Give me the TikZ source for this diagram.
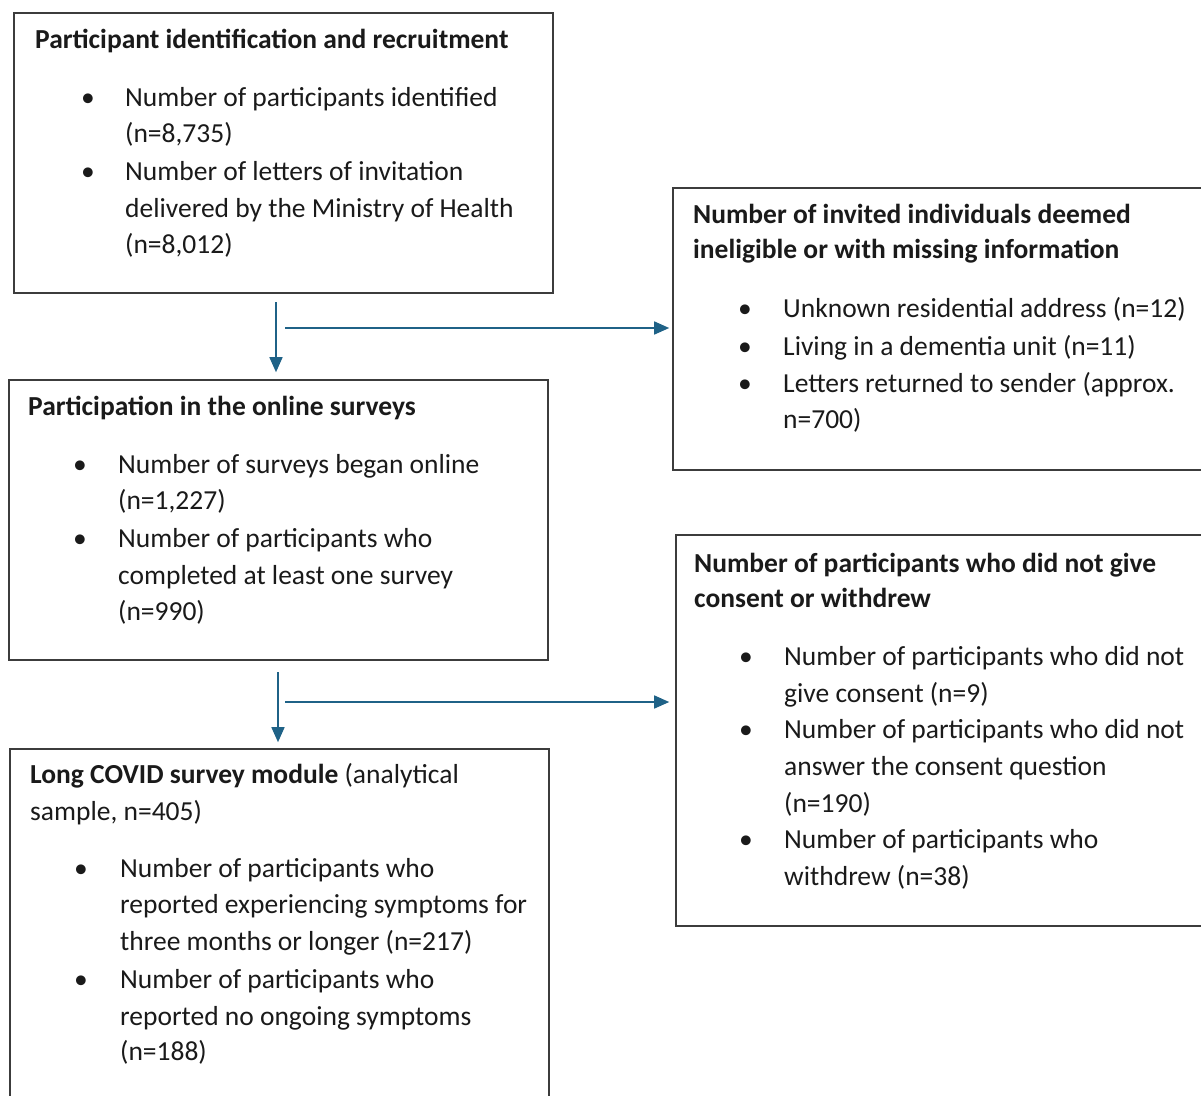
\documentclass[tikz,border=0pt]{standalone}
\usepackage{fontspec}
\setmainfont{Carlito}
\usetikzlibrary{arrows.meta}
\definecolor{ink}{RGB}{26,26,26}
\definecolor{frame}{RGB}{60,60,60}
\definecolor{arrowblue}{RGB}{31,98,135}
\begin{document}
\begin{tikzpicture}[x=1pt,y=-1pt,
  box/.style={draw=frame, line width=1.6pt, rectangle, inner sep=0pt},
  txt/.style={anchor=base west, inner sep=0pt, text=ink, font=\fontsize{27.5}{36}\selectfont},
  ttl/.style={txt, font=\fontsize{27.5}{36}\selectfont\bfseries},
  bul/.style={anchor=base, inner sep=0pt, text=ink, font=\fontsize{27.5}{36}\selectfont},
  arr/.style={draw=arrowblue, line width=1.5pt, -{Triangle[length=15pt,width=13pt]}, arrowblue}]
\useasboundingbox[fill=white] (0,0) rectangle (1201,1095);
% boxes
\node[box, minimum width=539pt, minimum height=280pt] (box1) at (283.5,153) {};
\node[box, minimum width=532pt, minimum height=282pt] (box2) at (939,329) {};
\node[box, minimum width=539pt, minimum height=280pt] (box3) at (278.5,520) {};
\node[box, minimum width=529pt, minimum height=391pt] (box4) at (940.5,730.5) {};
\node[box, minimum width=539pt, minimum height=360pt] (box5) at (279.5,929) {};
% box 1
\node[ttl] (t1) at (35,48) {Participant identification and recruitment};
\node[bul] (b1a) at (88,106) {•};
\node[txt] (l1a) at (125,106) {Number of participants identified};
\node[txt] (l1b) at (125,142) {(n=8,735)};
\node[bul] (b1b) at (88,180) {•};
\node[txt] (l1c) at (125,180) {Number of letters of invitation};
\node[txt] (l1d) at (125,217) {delivered by the Ministry of Health};
\node[txt] (l1e) at (125,253) {(n=8,012)};
% box 2
\node[ttl] (t2a) at (693,223) {Number of invited individuals deemed};
\node[ttl] (t2b) at (693,258) {ineligible or with missing information};
\node[bul] (b2a) at (745,317) {•};
\node[txt] (l2a) at (783,317) {Unknown residential address (n=12)};
\node[bul] (b2b) at (745,355) {•};
\node[txt] (l2b) at (783,355) {Living in a dementia unit (n=11)};
\node[bul] (b2c) at (745,392) {•};
\node[txt] (l2c) at (783,392) {Letters returned to sender (approx.};
\node[txt] (l2d) at (783,428) {n=700)};
% box 3
\node[ttl] (t3) at (28,415) {Participation in the online surveys};
\node[bul] (b3a) at (80,473) {•};
\node[txt] (l3a) at (118,473) {Number of surveys began online};
\node[txt] (l3b) at (118,509) {(n=1,227)};
\node[bul] (b3b) at (80,547) {•};
\node[txt] (l3c) at (118,547) {Number of participants who};
\node[txt] (l3d) at (118,584) {completed at least one survey};
\node[txt] (l3e) at (118,620) {(n=990)};
% box 4
\node[ttl] (t4a) at (694,572) {Number of participants who did not give};
\node[ttl] (t4b) at (694,607) {consent or withdrew};
\node[bul] (b4a) at (746,665) {•};
\node[txt] (l4a) at (784,665) {Number of participants who did not};
\node[txt] (l4b) at (784,702) {give consent (n=9)};
\node[bul] (b4b) at (746,738) {•};
\node[txt] (l4c) at (784,738) {Number of participants who did not};
\node[txt] (l4d) at (784,775) {answer the consent question};
\node[txt] (l4e) at (784,812) {(n=190)};
\node[bul] (b4c) at (746,848) {•};
\node[txt] (l4f) at (784,848) {Number of participants who};
\node[txt] (l4g) at (784,885) {withdrew (n=38)};
% box 5
\node[txt] (t5a) at (30,783) {\textbf{Long COVID survey module} (analytical};
\node[txt] (t5b) at (30,820) {sample, n=405)};
\node[bul] (b5a) at (81,877) {•};
\node[txt] (l5a) at (120,877) {Number of participants who};
\node[txt] (l5b) at (120,913) {reported experiencing symptoms for};
\node[txt] (l5c) at (120,950) {three months or longer (n=217)};
\node[bul] (b5b) at (81,988) {•};
\node[txt] (l5d) at (120,988) {Number of participants who};
\node[txt] (l5e) at (120,1025) {reported no ongoing symptoms};
\node[txt] (l5f) at (120,1060) {(n=188)};
% connectors
\coordinate (v1) at (276,302);
\coordinate (h1) at (285,328);
\coordinate (v2) at (278,672);
\coordinate (h2) at (285,702);
\draw[arr] (v1) -- ([yshift=7pt]box3.north -| v1);
\draw[arr] (h1) -- ([xshift=-3pt]box2.west |- h1);
\draw[arr] (v2) -- ([yshift=6pt]box5.north -| v2);
\draw[arr] (h2) -- ([xshift=-6pt]box4.west |- h2);
\end{tikzpicture}
\end{document}
